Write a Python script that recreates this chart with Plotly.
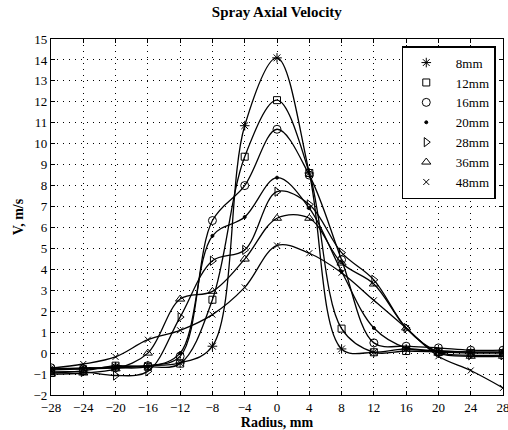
import plotly.graph_objects as go

radius = [-28, -24, -20, -16, -12, -8, -4, 0, 4, 8, 12, 16, 20, 24, 28]

v_8mm  = [-0.80, -0.75, -0.65, -0.60, -0.47, 0.33, 10.86, 14.10, 8.60, 0.20, 0.04, 0.20, 0.10, 0.05, 0.05]
v_12mm = [-0.95, -0.85, -0.60, -0.65, -0.50, 2.55, 9.38, 12.08, 8.60, 1.17, 0.04, 0.10, 0.05, 0.00, 0.00]
v_16mm = [-0.70, -0.75, -0.70, -0.60, -0.15, 6.33, 8.00, 10.69, 8.50, 4.46, 0.49, 0.33, 0.25, 0.14, 0.14]
v_20mm = [-0.75, -0.70, -0.70, -0.65, 0.00, 5.60, 6.50, 8.38, 6.92, 3.90, 1.20, 0.25, 0.10, 0.05, 0.05]
v_28mm = [-0.90, -0.90, -1.07, -0.87, 1.72, 4.41, 4.93, 7.71, 7.10, 4.80, 3.50, 1.20, 0.05, -0.10, -0.10]
v_36mm = [-1.00, -0.95, -0.75, 0.00, 2.58, 2.95, 4.49, 6.44, 6.44, 4.30, 3.30, 1.20, 0.00, -0.15, -0.15]
v_48mm = [-0.72, -0.52, -0.18, 0.64, 1.09, 1.84, 3.14, 5.14, 4.77, 3.84, 2.52, 1.20, -0.15, -0.83, -1.66]

names = ["8mm", "12mm", "16mm", "20mm", "28mm", "36mm", "48mm"]
series = [v_8mm, v_12mm, v_16mm, v_20mm, v_28mm, v_36mm, v_48mm]
symbols = ["asterisk-open", "square-open", "circle-open", "circle",
           "triangle-right-open", "triangle-up-open", "x-thin-open"]
sizes = [8, 7, 8, 3, 8, 8, 6]

x_ticks = list(range(-28, 29, 4))
y_ticks = list(range(-2, 16, 1))

FONT = "Liberation Serif, Times New Roman, serif"
PAD = "\u00a0\u00a0"

fig = go.Figure()
for n, v in zip(names, series):
    fig.add_trace(go.Scatter(x=radius, y=v, mode="lines", line_shape="spline",
                             line=dict(color="black", width=1.3, smoothing=1.0),
                             showlegend=False, hoverinfo="skip"))
for n, v, s, sz in zip(names, series, symbols, sizes):
    fig.add_trace(go.Scatter(x=radius, y=v, mode="markers", name=PAD + n,
                             marker=dict(symbol=s, size=sz, color="black",
                                         line=dict(color="black", width=1))))

axis_common = dict(showline=True, linecolor="black", linewidth=1.3, mirror="ticks",
                   ticks="inside", ticklen=4, tickcolor="black",
                   showgrid=True, gridcolor="black", gridwidth=1, griddash="1px,5px",
                   zeroline=False, ticklabeloverflow="allow", automargin=False,
                   tickfont=dict(family=FONT, size=13, color="black"))

fig.update_layout(
    width=508, height=430,
    paper_bgcolor="white", plot_bgcolor="white",
    margin=dict(l=51, r=5, t=39, b=35),
    title=dict(text="<b>Spray Axial Velocity</b>", x=0.545, xanchor="center",
               y=0.972, yanchor="middle",
               font=dict(family=FONT, size=15, color="black")),
    xaxis=dict(range=[-28, 28], tickvals=x_ticks, **axis_common,
               title=dict(text="<b>Radius, mm</b>", standoff=0,
                          font=dict(family=FONT, size=14, color="black"))),
    yaxis=dict(range=[-2, 15], tickvals=y_ticks, **axis_common,
               title=dict(text="<b>V, m/s</b>", standoff=6,
                          font=dict(family=FONT, size=14, color="black"))),
    legend=dict(x=0.984, y=0.98, xanchor="right", yanchor="top",
                bgcolor="white", bordercolor="black", borderwidth=1.5,
                font=dict(family=FONT, size=13, color="black"),
                itemwidth=36, tracegroupgap=0),
    showlegend=True,
)

fig.write_html("out.html", config={"displayModeBar": False},
               post_script="document.body.style.margin='0px';")
